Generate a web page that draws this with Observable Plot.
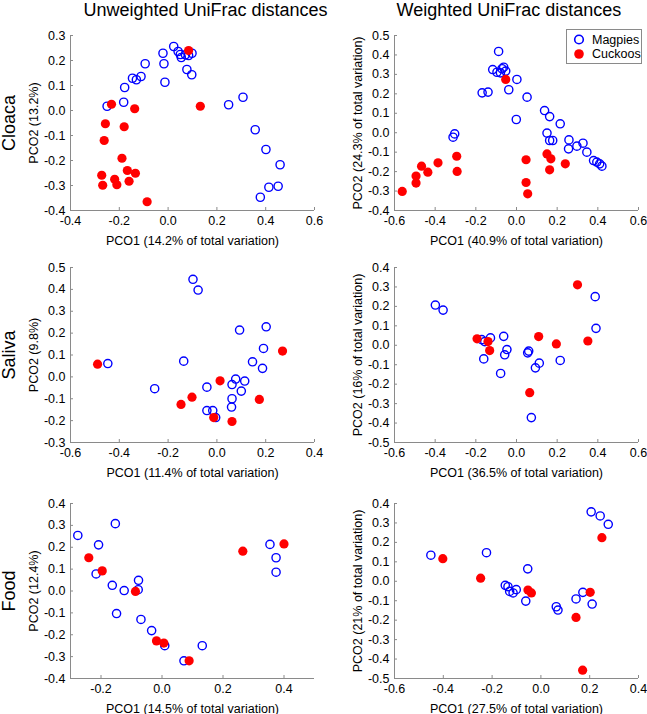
<!DOCTYPE html>
<html>
<head>
<meta charset="utf-8">
<script src="https://cdn.jsdelivr.net/npm/d3@7"></script>
<script src="https://cdn.jsdelivr.net/npm/@observablehq/plot@0.6"></script>
<style>
  body { margin: 0; background: #fff; }
  #chart { position: relative; width: 647px; height: 714px; overflow: hidden; background: #fff;
           font-family: "Liberation Sans", Arial, sans-serif; color: #000; }
  .panel { position: absolute; }
  #legend { position: absolute; left: 566px; top: 29px; }
</style>
</head>
<body>
<div id="chart"></div>
<script>
// ---------- labels ----------
const seriesNames = ["Magpies", "Cuckoos"];
const columnTitles = ["Unweighted UniFrac distances", "Weighted UniFrac distances"];
const rowLabels = ["Cloaca", "Saliva", "Food"];
const xLabels = [
  "PCO1 (14.2% of total variation)", "PCO1 (40.9% of total variation)",
  "PCO1 (11.4% of total variation)", "PCO1 (36.5% of total variation)",
  "PCO1 (14.5% of total variation)", "PCO1 (27.5% of total variation)"
];
const yLabels = [
  "PCO2 (13.2%)", "PCO2 (24.3% of total variation)",
  "PCO2 (9.8%)", "PCO2 (16% of total variation)",
  "PCO2 (12.4%)", "PCO2 (21% of total variation)"
];

// ---------- tick labels ----------
const xTicksCloacaUnw = [-0.4, -0.2, 0.0, 0.2, 0.4, 0.6];
const yTicksCloacaUnw = [-0.4, -0.3, -0.2, -0.1, 0.0, 0.1, 0.2, 0.3];
const xTicksCloacaW = [-0.6, -0.4, -0.2, 0.0, 0.2, 0.4, 0.6];
const yTicksCloacaW = [-0.4, -0.3, -0.2, -0.1, 0.0, 0.1, 0.2, 0.3, 0.4, 0.5];
const xTicksSalivaUnw = [-0.6, -0.4, -0.2, 0.0, 0.2, 0.4];
const yTicksSalivaUnw = [-0.3, -0.2, -0.1, 0.0, 0.1, 0.2, 0.3, 0.4, 0.5];
const xTicksSalivaW = [-0.6, -0.4, -0.2, 0.0, 0.2, 0.4, 0.6];
const yTicksSalivaW = [-0.5, -0.4, -0.3, -0.2, -0.1, 0.0, 0.1, 0.2, 0.3, 0.4];
const xTicksFoodUnw = [-0.2, 0.0, 0.2, 0.4];
const yTicksFoodUnw = [-0.4, -0.3, -0.2, -0.1, 0.0, 0.1, 0.2, 0.3, 0.4];
const xTicksFoodW = [-0.6, -0.4, -0.2, 0.0, 0.2, 0.4];
const yTicksFoodW = [-0.5, -0.4, -0.3, -0.2, -0.1, 0.0, 0.1, 0.2, 0.3, 0.4];

// ---------- data: [PCO1, PCO2] ----------
const cloacaUnwMagpies = [
  [-0.250, 0.017], [-0.182, 0.033], [-0.178, 0.092], [-0.146, 0.129], [-0.130, 0.123],
  [-0.111, 0.136], [-0.094, 0.187], [-0.021, 0.229], [-0.017, 0.187], [-0.013, 0.113],
  [0.023, 0.256], [0.041, 0.236], [0.050, 0.224], [0.054, 0.212], [0.071, 0.223],
  [0.084, 0.220], [0.098, 0.229], [0.077, 0.164], [0.097, 0.143], [0.248, 0.023],
  [0.307, 0.053], [0.357, -0.077], [0.401, -0.156], [0.459, -0.217], [0.413, -0.307],
  [0.451, -0.303], [0.378, -0.347]
];
const cloacaUnwCuckoos = [
  [0.084, 0.240], [-0.232, 0.025], [-0.137, 0.007], [0.132, 0.017], [-0.257, -0.053],
  [-0.180, -0.065], [-0.262, -0.120], [-0.189, -0.191], [-0.272, -0.259], [-0.167, -0.240],
  [-0.134, -0.251], [-0.219, -0.275], [-0.160, -0.283], [-0.268, -0.299], [-0.210, -0.297],
  [-0.086, -0.365]
];
const cloacaWMagpies = [
  [-0.088, 0.418], [-0.117, 0.325], [-0.096, 0.311], [-0.071, 0.329], [-0.063, 0.337],
  [-0.053, 0.317], [-0.079, 0.308], [0.002, 0.274], [-0.038, 0.221], [-0.169, 0.205],
  [-0.140, 0.209], [0.052, 0.183], [-0.001, 0.068], [0.138, 0.114], [0.163, 0.083],
  [0.215, 0.046], [-0.304, -0.006], [-0.312, -0.023], [0.150, -0.002], [0.163, -0.040],
  [0.178, -0.040], [0.258, -0.037], [0.256, -0.083], [0.297, -0.069], [0.327, -0.054],
  [0.346, -0.100], [0.379, -0.143], [0.395, -0.151], [0.409, -0.160], [0.420, -0.172]
];
const cloacaWCuckoos = [
  [-0.053, 0.274], [-0.294, -0.121], [-0.467, -0.172], [-0.386, -0.155], [-0.436, -0.203],
  [-0.292, -0.199], [-0.494, -0.223], [-0.494, -0.259], [-0.562, -0.302], [0.047, -0.139],
  [0.047, -0.256], [0.055, -0.314], [0.150, -0.109], [0.169, -0.134], [0.163, -0.191],
  [0.240, -0.160]
];
const salivaUnwMagpies = [
  [-0.098, 0.446], [-0.077, 0.397], [0.093, 0.214], [0.202, 0.229], [0.191, 0.130],
  [-0.136, 0.072], [-0.447, 0.061], [0.146, 0.069], [0.187, 0.039], [-0.255, -0.054],
  [-0.041, -0.047], [0.077, -0.010], [0.062, -0.035], [0.114, -0.019], [0.100, -0.065],
  [0.062, -0.100], [0.060, -0.138], [-0.041, -0.154], [-0.017, -0.154], [-0.005, -0.186]
];
const salivaUnwCuckoos = [
  [-0.489, 0.058], [0.269, 0.118], [0.013, -0.018], [-0.102, -0.093], [-0.147, -0.126],
  [0.174, -0.103], [-0.013, -0.186], [0.062, -0.204]
];
const salivaWMagpies = [
  [-0.399, 0.207], [-0.361, 0.181], [0.387, 0.250], [0.391, 0.087], [-0.171, 0.029],
  [-0.128, 0.038], [-0.156, 0.019], [-0.063, 0.046], [-0.047, -0.022], [-0.058, -0.049],
  [-0.161, -0.070], [0.060, -0.030], [0.055, -0.039], [0.112, -0.092], [0.093, -0.116],
  [0.215, -0.078], [-0.078, -0.145], [0.073, -0.372]
];
const salivaWCuckoos = [
  [0.300, 0.311], [-0.194, 0.033], [-0.140, 0.019], [-0.132, -0.027], [0.109, 0.045],
  [0.196, 0.007], [0.351, 0.022], [0.065, -0.244]
];
const foodUnwMagpies = [
  [-0.276, 0.254], [-0.153, 0.308], [-0.208, 0.211], [-0.216, 0.078], [-0.163, 0.026],
  [-0.124, 0.002], [-0.077, 0.049], [-0.078, 0.006], [-0.149, -0.103], [-0.069, -0.130],
  [-0.034, -0.181], [0.009, -0.250], [0.132, -0.250], [0.072, -0.319], [0.354, 0.213],
  [0.374, 0.152], [0.374, 0.086]
];
const foodUnwCuckoos = [
  [-0.240, 0.152], [-0.196, 0.092], [-0.087, -0.002], [-0.018, -0.228], [0.006, -0.238],
  [0.089, -0.319], [0.265, 0.182], [0.400, 0.215]
];
const foodWMagpies = [
  [-0.451, 0.134], [-0.223, 0.147], [-0.054, 0.064], [-0.146, -0.021], [-0.135, -0.028],
  [-0.128, -0.052], [-0.114, -0.060], [-0.101, -0.043], [-0.062, -0.102], [0.063, -0.131],
  [0.070, -0.148], [0.144, -0.091], [0.172, -0.057], [0.210, -0.117], [0.206, 0.357],
  [0.243, 0.336], [0.276, 0.293]
];
const foodWCuckoos = [
  [-0.402, 0.116], [-0.247, 0.016], [-0.053, -0.045], [-0.039, -0.060], [0.144, -0.186],
  [0.202, -0.057], [0.250, 0.224], [0.171, -0.457]
];

// ---------- drawing ----------
const BLUE = "#0000ff", RED = "#ff0000", AXIS = "#8a8a8a";
const FONT = '"Liberation Sans", Arial, sans-serif';
const fmt = d => d.toFixed(1);
const innerW = 244, innerH = 175;
const chart = document.getElementById("chart");

function panel(cfg) {
  const col = cfg.col, row = cfg.row;
  const left = col === 0 ? 0 : 320;
  const width = col === 0 ? 320 : 327;
  const mLeft = col === 0 ? 70 : 74;
  const mRight = width - mLeft - innerW;
  const top = [0, 232, 468][row];
  const mTop = 35, mBottom = row === 2 ? 46 : 55;
  const xd = [cfg.xTicks[0], cfg.xTicks[cfg.xTicks.length - 1]];
  if (cfg.xDomain) { xd[0] = cfg.xDomain[0]; xd[1] = cfg.xDomain[1]; }
  const yd = [cfg.yTicks[0], cfg.yTicks[cfg.yTicks.length - 1]];
  const idx = row * 2 + col;

  const marks = [
    Plot.ruleX(cfg.xTicks, {x: d => d, insetTop: innerH - 3, stroke: AXIS}),
    Plot.ruleY(cfg.yTicks, {y: d => d, insetRight: innerW - 3, stroke: AXIS}),
    Plot.ruleX([xd[0]], {x: d => d, stroke: AXIS}),
    Plot.ruleY([yd[0]], {y: d => d, stroke: AXIS}),
    Plot.axisX(cfg.xTicks, {tickSize: 0, tickPadding: 6, tickFormat: fmt, label: null, fontSize: 12.5}),
    Plot.axisY(cfg.yTicks, {tickSize: 0, tickPadding: 5, tickFormat: fmt, label: null, fontSize: 12.5}),
    Plot.dot(cfg.magpies, {x: d => d[0], y: d => d[1], r: 4.1, stroke: BLUE, strokeWidth: 1.4, fill: "none"}),
    Plot.dot(cfg.cuckoos, {x: d => d[0], y: d => d[1], r: 4.6, fill: RED, stroke: "none"}),
    Plot.text([xLabels[idx]], {frameAnchor: "bottom", dy: 30, text: d => d, fontSize: 12.5,
      textAnchor: "middle", lineAnchor: "middle"}),
    Plot.text([yLabels[idx]], {frameAnchor: "left", dx: -37, rotate: -90, text: d => d, fontSize: 12.5,
      textAnchor: "middle", lineAnchor: "middle"})
  ];
  if (col === 0) {
    marks.push(Plot.text([rowLabels[row]], {frameAnchor: "left", dx: -61, rotate: -90, text: d => d, fontSize: 18,
      textAnchor: "middle", lineAnchor: "middle"}));
  }
  if (row === 0) {
    marks.push(Plot.text([columnTitles[col]], {frameAnchor: "top-left", dx: col === 0 ? 13 : 2, dy: -25,
      text: d => d, fontSize: 18, textAnchor: "start", lineAnchor: "middle"}));
  }

  const svg = Plot.plot({
    width, height: mTop + innerH + mBottom,
    marginLeft: mLeft, marginRight: mRight, marginTop: mTop, marginBottom: mBottom,
    x: {domain: xd, axis: null},
    y: {domain: yd, axis: null},
    style: {fontFamily: FONT, fontSize: "12.5px", color: "#000", background: "transparent", overflow: "visible"},
    marks
  });
  svg.classList.add("panel");
  svg.style.left = left + "px";
  svg.style.top = top + "px";
  chart.appendChild(svg);
}

panel({row: 0, col: 0, xTicks: xTicksCloacaUnw, yTicks: yTicksCloacaUnw, magpies: cloacaUnwMagpies, cuckoos: cloacaUnwCuckoos});
panel({row: 0, col: 1, xTicks: xTicksCloacaW, yTicks: yTicksCloacaW, magpies: cloacaWMagpies, cuckoos: cloacaWCuckoos});
panel({row: 1, col: 0, xTicks: xTicksSalivaUnw, yTicks: yTicksSalivaUnw, magpies: salivaUnwMagpies, cuckoos: salivaUnwCuckoos});
panel({row: 1, col: 1, xTicks: xTicksSalivaW, yTicks: yTicksSalivaW, magpies: salivaWMagpies, cuckoos: salivaWCuckoos});
panel({row: 2, col: 0, xTicks: xTicksFoodUnw, yTicks: yTicksFoodUnw, xDomain: [-0.3, 0.5], magpies: foodUnwMagpies, cuckoos: foodUnwCuckoos});
panel({row: 2, col: 1, xTicks: xTicksFoodW, yTicks: yTicksFoodW, magpies: foodWMagpies, cuckoos: foodWCuckoos});

// ---------- legend ----------
const legend = d3.select(chart).append("svg")
  .attr("id", "legend").attr("width", 76).attr("height", 35)
  .style("font-family", FONT).style("font-size", "12.5px");
legend.append("rect").attr("x", 0.5).attr("y", 0.5).attr("width", 75).attr("height", 34)
  .attr("fill", "#fff").attr("stroke", AXIS);
seriesNames.forEach((name, i) => {
  const g = legend.append("g").attr("transform", `translate(0,${10.5 + i * 14.5})`);
  if (i === 0) g.append("circle").attr("cx", 13).attr("cy", 0).attr("r", 4.3).attr("fill", "none").attr("stroke", BLUE).attr("stroke-width", 1.6);
  else g.append("circle").attr("cx", 13).attr("cy", 0).attr("r", 4.8).attr("fill", RED);
  g.append("text").attr("x", 26).attr("y", 0).attr("dy", "0.35em").attr("fill", "#000").text(name);
});
</script>
</body>
</html>
